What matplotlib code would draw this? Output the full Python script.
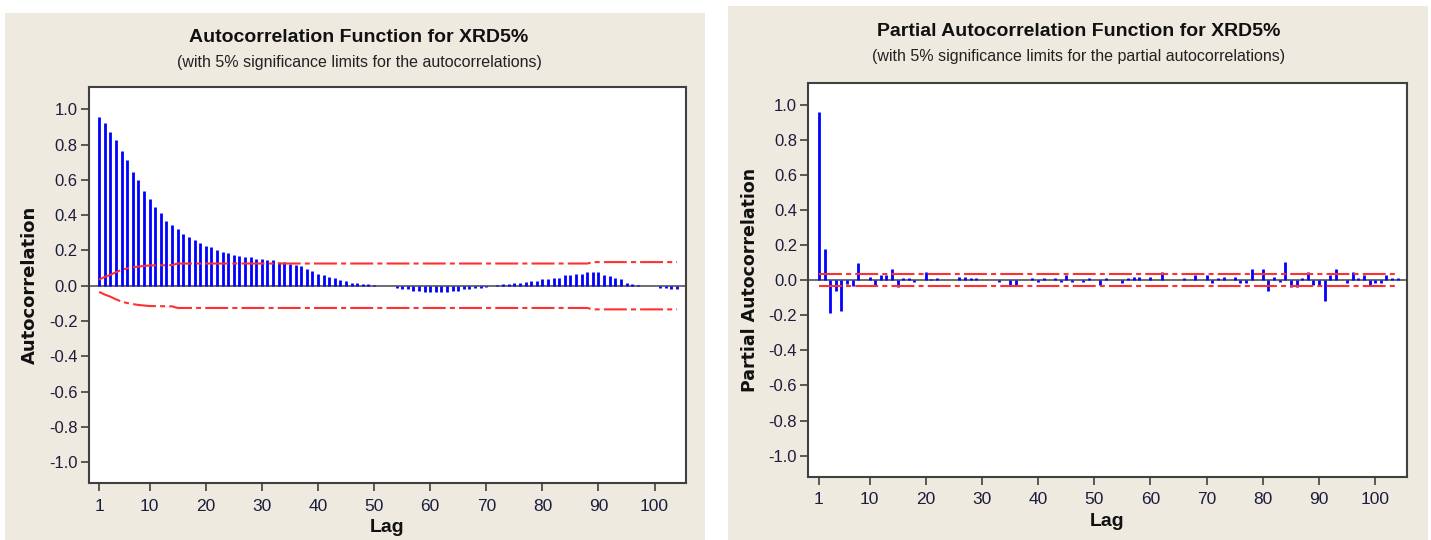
import numpy as np
import matplotlib
matplotlib.use("Agg")
import matplotlib.pyplot as plt
from matplotlib.patches import Rectangle

plt.rcParams['font.family'] = ['Liberation Sans', 'DejaVu Sans']
plt.rcParams['lines.scale_dashes'] = False

# ---- data ----
acf_values = [
    0.957, 0.923, 0.873, 0.829, 0.763, 0.712, 0.646, 0.597, 0.538, 0.493,
    0.444, 0.410, 0.368, 0.346, 0.319, 0.295, 0.278, 0.261, 0.244, 0.227,
    0.219, 0.200, 0.193, 0.185, 0.176, 0.168, 0.161, 0.161, 0.153, 0.151,
    0.144, 0.144, 0.136, 0.136, 0.123, 0.119, 0.110, 0.093, 0.085, 0.068,
    0.059, 0.051, 0.043, 0.034, 0.026, 0.017, 0.017, 0.009, 0.009, 0.005,
    0.000, -0.003, -0.003, -0.015, -0.020, -0.020, -0.030, -0.030, -0.038, -0.038,
    -0.038, -0.038, -0.038, -0.030, -0.030, -0.020, -0.020, -0.015, -0.015, -0.006,
    -0.002, 0.002, 0.009, 0.009, 0.017, 0.017, 0.020, 0.026, 0.026, 0.036,
    0.036, 0.043, 0.043, 0.060, 0.060, 0.068, 0.068, 0.077, 0.077, 0.077,
    0.060, 0.053, 0.043, 0.036, 0.017, 0.009, 0.002, 0.000, -0.002, -0.004,
    -0.010, -0.010, -0.020, -0.020,
]

# significance limit (upper; lower is the mirror) at a few lags
acf_limit_lags = [1, 2, 3, 4, 5, 6, 7, 8, 9, 10, 14, 15, 88, 89, 104]
acf_limit_vals = [0.035, 0.050, 0.062, 0.077, 0.090, 0.098, 0.104, 0.109, 0.112,
                  0.115, 0.117, 0.126, 0.126, 0.134, 0.134]

pacf_values = [
    0.960, 0.180, -0.188, -0.063, -0.173, -0.021, -0.032, 0.097, 0.000, 0.019,
    -0.032, 0.032, 0.029, 0.063, -0.038, 0.011, 0.011, -0.011, 0.000, 0.046,
    0.004, 0.011, 0.000, 0.000, 0.000, 0.019, 0.019, 0.011, 0.011, 0.000,
    0.000, 0.000, -0.011, 0.000, -0.036, -0.029, 0.000, 0.000, 0.015, -0.011,
    0.011, 0.000, 0.015, -0.011, 0.030, -0.011, 0.000, -0.011, 0.011, 0.000,
    -0.029, 0.015, 0.000, 0.000, -0.019, 0.011, 0.019, 0.019, 0.000, 0.019,
    0.000, 0.046, 0.000, 0.000, 0.000, 0.011, 0.000, 0.030, 0.000, 0.030,
    -0.019, 0.011, 0.019, 0.000, 0.019, -0.019, -0.019, 0.061, 0.000, 0.061,
    -0.061, 0.019, -0.008, 0.103, -0.038, -0.038, 0.011, 0.046, -0.030, -0.030,
    -0.118, 0.027, 0.061, 0.000, -0.019, 0.046, 0.011, 0.030, -0.034, -0.019,
    -0.019, 0.030, 0.011, 0.011,
]
pacf_limit = 0.034

lags = np.arange(1, len(acf_values) + 1)
x_ticks = [1, 10, 20, 30, 40, 50, 60, 70, 80, 90, 100]
y_ticks = [-1.0, -0.8, -0.6, -0.4, -0.2, 0.0, 0.2, 0.4, 0.6, 0.8, 1.0]

BEIGE = '#EEEAE0'
TXT = '#1c1c3c'
RED = '#FF3030'
BLUE = '#0000FF'
DASHDOT = (0, (16.5, 3.0, 3.6, 3.0))

W, H = 1431, 540
fig = plt.figure(figsize=(W / 100, H / 100), dpi=100)
fig.patch.set_facecolor('white')

# beige panel backgrounds (behind the axes)
fig.patches.append(Rectangle((5 / W, 0), 700 / W, 1 - 13 / H, transform=fig.transFigure,
                             facecolor=BEIGE, edgecolor='none', zorder=-10))
fig.patches.append(Rectangle((728 / W, 0), 700 / W, 1 - 6 / H, transform=fig.transFigure,
                             facecolor=BEIGE, edgecolor='none', zorder=-10))


def style_axes(ax):
    ax.set_facecolor('white')
    ax.set_xlim(-0.9, 105.6)
    ax.set_ylim(-1.12, 1.125)
    ax.set_xticks(x_ticks)
    ax.set_yticks(y_ticks)
    ax.set_yticklabels(['%.1f' % v for v in y_ticks])
    ax.tick_params(direction='out', length=6, width=1.2, color='#404040',
                   labelcolor=TXT, labelsize=12, pad=2)
    ax.tick_params(axis='x', pad=5, labelsize=12.5)
    for s in ax.spines.values():
        s.set_color('#404040')
        s.set_linewidth(1.5)
    ax.axhline(0, color='#606060', lw=1.3, zorder=1)


# ---- left: ACF ----
ax1 = fig.add_axes([88.5 / W, 1 - 483.3 / H, (686 - 88.5) / W, (483.3 - 87.3) / H])
style_axes(ax1)
ax1.vlines(lags, 0, acf_values, color=BLUE, lw=2.0, zorder=2)
lim_l = np.array(acf_limit_vals)
ax1.plot(acf_limit_lags, lim_l, color=RED, lw=1.5, linestyle=DASHDOT, zorder=3)
ax1.plot(acf_limit_lags, -lim_l, color=RED, lw=1.5, linestyle=DASHDOT, zorder=3)
ax1.set_xlabel('Lag', fontsize=14, fontweight='bold', color='#111111', labelpad=4)
fig.text(30 / W, 1 - 285 / H, 'Autocorrelation', rotation=90, ha='center', va='center',
         fontsize=13, fontweight='bold', color='#111111', family=['DejaVu Sans'])
fig.text(359 / W, 1 - 38 / H, 'Autocorrelation Function for XRD5%', ha='center', va='center',
         fontsize=14, fontweight='bold', color='#111111')
fig.text(359 / W, 1 - 62 / H, '(with 5% significance limits for the autocorrelations)',
         ha='center', va='center', fontsize=11.5, color='#222222')

# ---- right: PACF ----
ax2 = fig.add_axes([808.3 / W, 1 - 476.7 / H, (1406.7 - 808.3) / W, (476.7 - 82.7) / H])
style_axes(ax2)
ax2.vlines(lags, 0, pacf_values, color=BLUE, lw=2.0, zorder=2)
ax2.plot([lags[0], lags[-1]], [pacf_limit, pacf_limit], color=RED, lw=1.5,
         linestyle=DASHDOT, zorder=3)
ax2.plot([lags[0], lags[-1]], [-pacf_limit, -pacf_limit], color=RED, lw=1.5,
         linestyle=DASHDOT, zorder=3)
ax2.set_xlabel('Lag', fontsize=14, fontweight='bold', color='#111111', labelpad=4)
fig.text(750 / W, 1 - 280 / H, 'Partial Autocorrelation', rotation=90, ha='center',
         va='center', fontsize=12.5, fontweight='bold', color='#111111', family=['DejaVu Sans'])
fig.text(1079 / W, 1 - 32 / H, 'Partial Autocorrelation Function for XRD5%', ha='center',
         va='center', fontsize=14, fontweight='bold', color='#111111')
fig.text(1079 / W, 1 - 56 / H, '(with 5% significance limits for the partial autocorrelations)',
         ha='center', va='center', fontsize=11.5, color='#222222')

fig.savefig('out.png', dpi=100, facecolor=fig.get_facecolor())
